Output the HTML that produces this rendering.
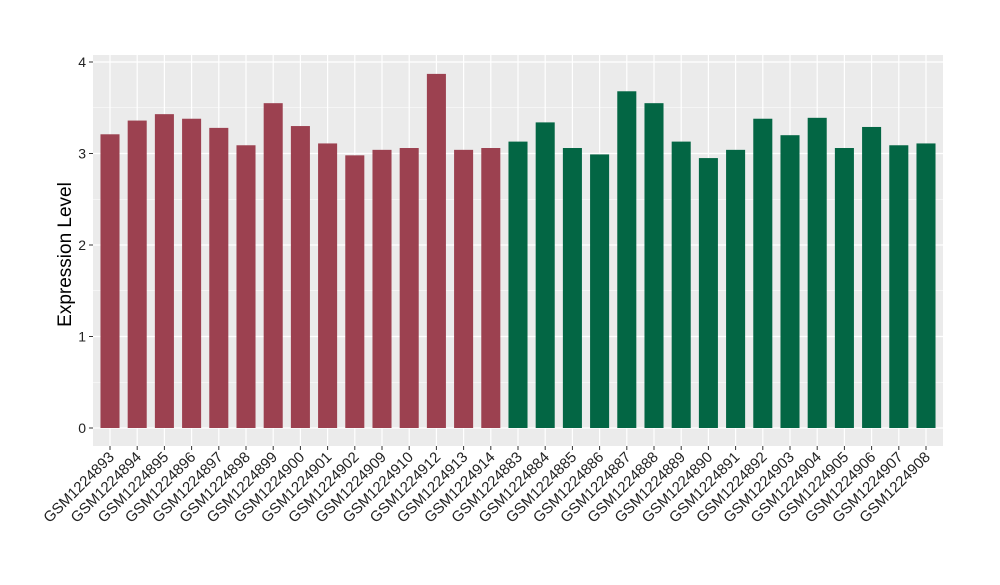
<!DOCTYPE html>
<html><head><meta charset="utf-8"><style>
body{margin:0;background:#fff;font-family:"Liberation Sans",sans-serif}
</style></head><body>
<svg id="chart" width="1000" height="580" xmlns="http://www.w3.org/2000/svg"></svg>
<script>
const categories=["GSM1224893","GSM1224894","GSM1224895","GSM1224896","GSM1224897","GSM1224898","GSM1224899","GSM1224900","GSM1224901","GSM1224902","GSM1224909","GSM1224910","GSM1224912","GSM1224913","GSM1224914","GSM1224883","GSM1224884","GSM1224885","GSM1224886","GSM1224887","GSM1224888","GSM1224889","GSM1224890","GSM1224891","GSM1224892","GSM1224903","GSM1224904","GSM1224905","GSM1224906","GSM1224907","GSM1224908"];
const values=[3.21,3.36,3.43,3.38,3.28,3.09,3.55,3.30,3.11,2.98,3.04,3.06,3.87,3.04,3.06,3.13,3.34,3.06,2.99,3.68,3.55,3.13,2.95,3.04,3.38,3.20,3.39,3.06,3.29,3.09,3.11];
const groups=["a","a","a","a","a","a","a","a","a","a","a","a","a","a","a","b","b","b","b","b","b","b","b","b","b","b","b","b","b","b","b"];
const yTicks=[0,1,2,3,4];
const colors={a:"#9c4150",b:"#036644"};
const NS="http://www.w3.org/2000/svg";
const svg=document.getElementById("chart");
const L=93,R=943,T=55,B=446;
const XL=96.4,XR=939.6;
const y0=428,unit=91.5;
const band=(XR-XL)/categories.length;
const y=v=>y0-v*unit;
const x=i=>XL+band*(i+0.5);
function mk(t,a,p){const e=document.createElementNS(NS,t);for(const k in a)e.setAttribute(k,a[k]);(p||svg).appendChild(e);return e;}
const bg=mk("rect",{x:L,y:T,width:R-L,height:B-T,fill:"#ebebeb"});


for(let i=0;i<yTicks.length-1;i++){const m=(yTicks[i]+yTicks[i+1])/2;const g=mk("line",{x1:L,x2:R,y1:y(m),y2:y(m),stroke:"#fff","stroke-width":0.6});}
yTicks.forEach(t=>{
const g=mk("line",{x1:L,x2:R,y1:y(t),y2:y(t),stroke:"#fff","stroke-width":1.2});


mk("line",{x1:L-4,x2:L,y1:y(t),y2:y(t),stroke:"#333"});
const lb=mk("text",{x:L-7,y:y(t)+5,"text-anchor":"end","font-size":14,fill:"#222"});lb.textContent=t;


});
categories.forEach((c,i)=>{
const g=mk("line",{x1:x(i),x2:x(i),y1:T,y2:B,stroke:"#fff","stroke-width":1.2});


const w=band*0.7;
const r=mk("rect",{x:x(i)-w/2,y:y(values[i]),width:w,height:y(0)-y(values[i]),fill:colors[groups[i]]});


mk("line",{x1:x(i),x2:x(i),y1:B,y2:B+4,stroke:"#333"});
const ax=x(i)+5,ay=B+12;
const t=mk("text",{x:ax,y:ay,"text-anchor":"end","font-size":15,fill:"#222",transform:`rotate(-45 ${ax} ${ay})`});
t.textContent=c;


});
const yt=mk("text",{x:71,y:(T+B)/2+4,"text-anchor":"middle","font-size":19,fill:"#000",transform:`rotate(-90 71 ${(T+B)/2+4})`});
yt.textContent="Expression Level";


</script>
</body></html>
